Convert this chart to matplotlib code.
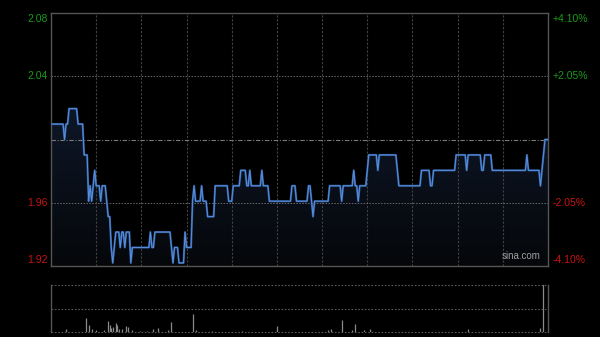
import numpy as np
import matplotlib
matplotlib.use('Agg')
import matplotlib.pyplot as plt
from matplotlib.colors import LinearSegmentedColormap

plt.rcParams['font.family'] = ['Liberation Sans', 'DejaVu Sans']

# intraday price (HK session, 330 minutes), step changes: minute -> price
change_min = [0, 9, 10, 12, 18, 22, 25, 26, 27, 28, 29, 30, 33, 34, 37, 38, 40, 41, 42, 43,
              46, 47, 49, 50, 53, 54, 66, 67, 69, 80, 81, 82, 85, 89, 90, 94, 95, 96, 100, 101,
              104, 109, 118, 121, 126, 130, 132, 133, 140, 141, 145, 160, 163, 171, 173, 174, 175,
              185, 193, 194, 201, 202, 204, 205, 210, 211, 217, 218, 230, 231, 246, 252, 254,
              269, 276, 277, 286, 288, 293, 316, 317, 325, 326, 327, 328]
change_px = [2.01, 2.00, 2.01, 2.02, 2.01, 1.99, 1.96, 1.97, 1.96, 1.97, 1.98, 1.97, 1.96, 1.97, 1.96, 1.95, 1.93, 1.92, 1.93, 1.94,
             1.93, 1.94, 1.93, 1.94, 1.92, 1.93, 1.94, 1.93, 1.94, 1.93, 1.92, 1.93, 1.92, 1.94, 1.93, 1.96, 1.97, 1.96, 1.97, 1.96,
             1.95, 1.97, 1.96, 1.97, 1.98, 1.97, 1.98, 1.97, 1.98, 1.97, 1.96, 1.97, 1.96, 1.97, 1.96, 1.95, 1.96,
             1.97, 1.96, 1.97, 1.98, 1.97, 1.96, 1.97, 1.98, 1.99, 1.98, 1.99, 1.98, 1.97, 1.98, 1.97, 1.98,
             1.99, 1.98, 1.99, 1.98, 1.99, 1.98, 1.99, 1.98, 1.97, 1.98, 1.99, 2.00]

# volume bars (percent of panel height)
vol_min = [10, 23, 25, 27, 30, 35, 38, 39, 40, 41, 43, 44, 45, 47, 50, 51, 54, 59, 64, 68, 71, 78, 80,
           94, 96, 107, 127, 150, 184, 186, 193, 200, 202, 208, 212, 277, 325, 327]
vol_val = [5.7, 30.7, 15.7, 5.7, 3.6, 5, 22.8, 14.3, 8.6, 10.7, 20, 15.7, 7, 5.7, 12, 10.7, 3.6, 2.9, 2.9, 5.7, 8.6, 3.6, 20.7,
           38.5, 3.6, 2.9, 2.9, 12, 3.6, 5.7, 25, 5, 17.8, 3.6, 7.1, 7.1, 8.6, 120]

prev_close = 2.00
left_labels = ['2.08', '2.04', '1.96', '1.92']
right_labels = ['+4.10%', '+2.05%', '-2.05%', '-4.10%']

minutes = np.arange(0, 331)
idx = np.searchsorted(change_min, minutes, side='right') - 1
price = np.array(change_px)[idx]

ylo, yhi = prev_close * (1 - 0.041), prev_close * (1 + 0.041)

fig = plt.figure(figsize=(6, 3.37), dpi=100, facecolor='black')
ax = fig.add_axes([51/600, 1 - 266/337, 497/600, 253/337], facecolor='black')
axv = fig.add_axes([51/600, 1 - 332/337, 497/600, 47/337], facecolor='black')

ax.set_xlim(0, 330)
ax.set_ylim(ylo, yhi)

# gradient fill under the price line
poly = ax.fill_between(minutes, price, ylo, color='none', lw=0)
cmap = LinearSegmentedColormap.from_list('fill', ['#05070a', '#13213a'])
grad = np.linspace(1, 0, 256).reshape(-1, 1)
im = ax.imshow(grad, extent=[0, 330, ylo, yhi], aspect='auto', cmap=cmap, zorder=1, interpolation='bilinear')
im.set_clip_path(poly.get_paths()[0], transform=ax.transData)

# grid
for m in range(30, 330, 30):
    ax.axvline(m, color='#424242', lw=0.8, ls=(0, (2, 1.5)), zorder=2)
for p in [prev_close * 1.0205, prev_close * 0.9795]:
    ax.axhline(p, color='#6a6a6a', lw=0.7, ls=(0, (1.5, 1.5)), zorder=2)
ax.axhline(prev_close, color='#7a7a7a', lw=0.8, ls=(0, (4, 1.5, 1, 1.5)), zorder=2)

ax.plot(minutes, price, color='#2c5797', lw=1.5, zorder=3, solid_joinstyle='round')
ax.plot(minutes, price, color='#5a8fdc', lw=0.7, zorder=4, solid_joinstyle='round')

ax.set_xticks([])
ax.set_yticks([])
for s in ax.spines.values():
    s.set_color('#555555')
    s.set_linewidth(1)

# axis labels
cols = ['#1a9a1a', '#1a9a1a', '#c81414', '#c81414']
for t, y, c in zip(left_labels, [0.978, 0.75, 0.25, 0.022], cols):
    ax.text(-0.007, y, t, transform=ax.transAxes, ha='right', va='center', color=c, fontsize=7.5)
for t, y, c in zip(right_labels, [0.978, 0.75, 0.25, 0.022], cols):
    ax.text(1.01, y, t, transform=ax.transAxes, ha='left', va='center', color=c, fontsize=7.5)

ax.text(0.985, 0.018, 'sina.com', transform=ax.transAxes, ha='right', va='bottom', color='#a0a0a0', fontsize=7)

# volume panel
axv.set_xlim(0, 330)
axv.set_ylim(0, 100)
axv.vlines(vol_min, 0, vol_val, color='#8a8a8a', lw=0.9)
for v in [0, 50, 100]:
    axv.axhline(v, color='#5a5a5a', lw=0.8, ls=(0, (1.5, 1.5)), clip_on=False)
axv.set_xticks([])
axv.set_yticks([])
axv.spines['top'].set_visible(False)
axv.spines['bottom'].set_visible(False)
for s in ['left', 'right']:
    axv.spines[s].set_color('#555555')
    axv.spines[s].set_linewidth(1)

fig.savefig('out.png', dpi=100, facecolor='black')
